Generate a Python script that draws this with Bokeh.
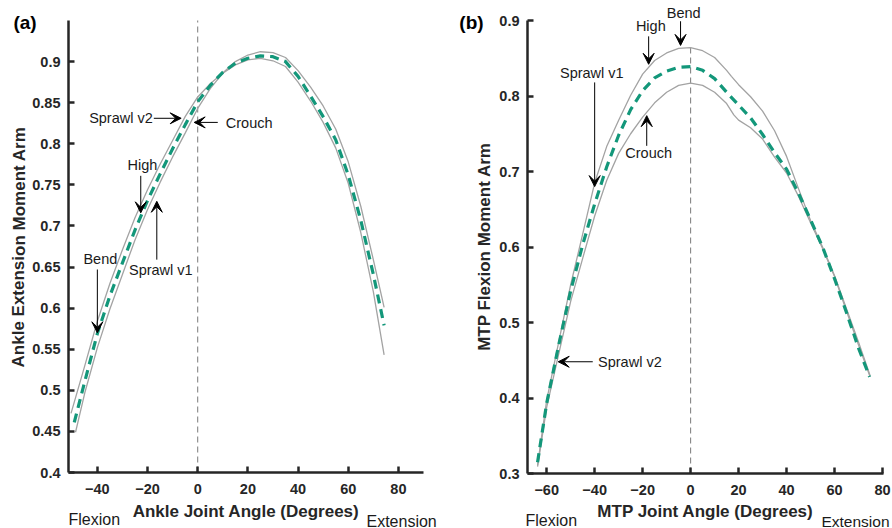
from bokeh.plotting import figure
from bokeh.layouts import row
from bokeh.models import Label, Arrow, VeeHead, FixedTicker, Range1d
from bokeh.embed import file_html
from bokeh.resources import INLINE

FONT = "Liberation Sans"

# ---------------- Panel (a): ankle ----------------
ankle_g1_x = [-50.5, -45, -40, -35, -30, -25, -20, -15, -10, -5, 0, 5, 10, 15, 20, 25, 30, 35, 40, 45, 50, 55, 60, 65, 70, 74.3]
ankle_g1_y = [0.472, 0.530, 0.584, 0.630, 0.671, 0.710, 0.744, 0.775, 0.804, 0.833, 0.857, 0.873, 0.886, 0.896, 0.902, 0.904, 0.901, 0.894, 0.875, 0.852, 0.826, 0.795, 0.752, 0.692, 0.620, 0.543]
ankle_g2_x = [-48.7, -45, -40, -35, -30, -25, -20, -15, -10, -5, 0, 5, 10, 15, 20, 25, 30, 35, 40, 45, 50, 55, 60, 65, 70, 74.3]
ankle_g2_y = [0.449, 0.497, 0.552, 0.599, 0.641, 0.683, 0.720, 0.753, 0.784, 0.813, 0.843, 0.867, 0.886, 0.900, 0.908, 0.912, 0.911, 0.905, 0.889, 0.869, 0.846, 0.818, 0.778, 0.724, 0.659, 0.601]
ankle_mean_x = [-49.2, -45, -40, -35, -30, -25, -20, -15, -10, -5, 0, 5, 10, 15, 20, 25, 30, 35, 40, 45, 50, 55, 60, 65, 70, 74.3]
ankle_mean_y = [0.461, 0.511, 0.569, 0.615, 0.655, 0.695, 0.731, 0.763, 0.794, 0.823, 0.851, 0.871, 0.887, 0.898, 0.904, 0.907, 0.906, 0.900, 0.882, 0.858, 0.833, 0.805, 0.762, 0.707, 0.641, 0.579]
ankle_xticks = [-40, -20, 0, 20, 40, 60, 80]
ankle_yticks = [0.4, 0.45, 0.5, 0.55, 0.6, 0.65, 0.7, 0.75, 0.8, 0.85, 0.9]
ankle_ytick_labels = ["0.4", "0.45", "0.5", "0.55", "0.6", "0.65", "0.7", "0.75", "0.8", "0.85", "0.9"]
ankle_xlim = (-51.5, 90)
ankle_ylim = (0.4, 0.95)

# ---------------- Panel (b): MTP ----------------
mtp_up_x = [-63.8, -60, -55, -50, -45, -40, -35, -30, -25, -20, -15, -10, -5, 0, 5, 10, 15, 17, 20, 25, 30, 35, 40, 45, 50, 55, 60, 65, 70, 74.8]
mtp_up_y = [0.311, 0.397, 0.474, 0.550, 0.617, 0.685, 0.733, 0.768, 0.801, 0.829, 0.847, 0.857, 0.863, 0.864, 0.860, 0.851, 0.834, 0.826, 0.815, 0.799, 0.780, 0.754, 0.720, 0.677, 0.635, 0.600, 0.562, 0.518, 0.474, 0.430]
mtp_lo_x = [-63.8, -60, -55, -50, -45, -40, -35, -30, -25, -20, -15, -10, -5, 0, 5, 10, 15, 18, 20, 25, 30, 35, 40, 45, 50, 55, 60, 65, 70, 74.8]
mtp_lo_y = [0.309, 0.388, 0.458, 0.528, 0.585, 0.641, 0.688, 0.724, 0.750, 0.772, 0.791, 0.805, 0.814, 0.817, 0.814, 0.805, 0.790, 0.775, 0.768, 0.758, 0.743, 0.719, 0.698, 0.667, 0.632, 0.598, 0.561, 0.515, 0.470, 0.428]
mtp_mean_x = [-63.8, -60, -55, -50, -45, -40, -35, -30, -25, -20, -15, -10, -5, 0, 5, 10, 15, 20, 25, 30, 35, 40, 45, 50, 55, 60, 65, 70, 74.6]
mtp_mean_y = [0.315, 0.393, 0.470, 0.542, 0.603, 0.657, 0.706, 0.748, 0.782, 0.807, 0.824, 0.833, 0.838, 0.839, 0.834, 0.823, 0.805, 0.788, 0.771, 0.749, 0.725, 0.703, 0.671, 0.636, 0.600, 0.558, 0.513, 0.466, 0.428]
mtp_xticks = [-60, -40, -20, 0, 20, 40, 60, 80]
mtp_yticks = [0.3, 0.4, 0.5, 0.6, 0.7, 0.8, 0.9]
mtp_ytick_labels = ["0.3", "0.4", "0.5", "0.6", "0.7", "0.8", "0.9"]
mtp_xlim = (-68, 80.4)
mtp_ylim = (0.3, 0.9)

# dashed zero line tops
ankle_vline_top = 0.95
mtp_vline_top = 0.866

# annotation texts: (text, text_x, text_y, align, arrow_x0, arrow_y0, arrow_x1, arrow_y1)
ankle_notes = [
    ("Sprawl v2", -17.9, 0.831, "right", -17.5, 0.831, -6.6, 0.831),
    ("Crouch", 11.2, 0.825, "left", 8.0, 0.826, -1.4, 0.826),
    ("High", -22.0, 0.774, "center", -22.7, 0.761, -22.7, 0.716),
    ("Sprawl v1", -14.7, 0.646, "center", -16.3, 0.659, -16.3, 0.730),
    ("Bend", -38.8, 0.660, "center", -40.0, 0.647, -40.0, 0.570),
]
mtp_notes = [
    ("Bend", -2.9, 0.9105, "center", -4.2, 0.899, -4.2, 0.867),
    ("High", -16.6, 0.893, "center", -17.5, 0.879, -17.5, 0.842),
    ("Sprawl v1", -41.2, 0.830, "center", -40.0, 0.818, -40.0, 0.680),
    ("Crouch", -17.5, 0.724, "center", -18.3, 0.734, -18.3, 0.774),
    ("Sprawl v2", -38.6, 0.448, "left", -40.8, 0.448, -55.2, 0.448),
]

AX = "#262626"
GRAY = "#a3a3a3"
GREEN = "#13977a"
TXT = "#1a1a1a"
FIG_H = 528
FIG_W = 446


def make_panel(spec):
    (xlim, ylim, fl, ft, fw, fh, fig_left, gx1, gy1, gx2, gy2, mx, my, xticks, yticks,
     ylabels, vtop, notes, outside) = spec
    kx = fw / (xlim[1] - xlim[0])        # px per x unit
    ky = fh / (ylim[1] - ylim[0])        # px per y unit

    def dx(px):
        return xlim[0] + (px - fl) / kx

    def dy(py):
        return ylim[1] - (py - ft) / ky

    p = figure(width=FIG_W, height=FIG_H,
               x_range=Range1d(dx(fig_left), dx(fig_left + FIG_W)),
               y_range=Range1d(dy(FIG_H), dy(0)),
               output_backend="svg", toolbar_location=None,
               min_border=0, min_border_left=0, min_border_right=0,
               min_border_top=0, min_border_bottom=0)
    p.outline_line_color = None
    p.xgrid.visible = False
    p.ygrid.visible = False
    p.background_fill_color = "white"
    p.border_fill_color = "white"

    p.xaxis.fixed_location = ylim[0]
    p.yaxis.fixed_location = xlim[0]
    p.xaxis.bounds = xlim
    p.yaxis.bounds = ylim
    p.xaxis.ticker = FixedTicker(ticks=xticks)
    p.yaxis.ticker = FixedTicker(ticks=yticks)
    p.yaxis.major_label_overrides = {t: s for t, s in zip(yticks, ylabels)}
    for ax in (p.xaxis, p.yaxis):
        ax.axis_line_color = AX
        ax.axis_line_width = 2.5
        ax.major_tick_line_color = AX
        ax.major_tick_line_width = 2.5
        ax.major_tick_in = 6
        ax.major_tick_out = 0
        ax.minor_tick_in = 0
        ax.minor_tick_out = 0
        ax.major_label_text_font = FONT
        ax.major_label_text_font_style = "bold"
        ax.major_label_text_font_size = "14.5px"
        ax.major_label_text_color = AX
    p.xaxis.major_label_standoff = 11
    p.yaxis.major_label_standoff = 8

    # vertical reference line at zero
    p.line([0, 0], [ylim[0], vtop], line_color="#7a7a7a", line_width=1, line_dash="6 4")

    p.line(gx1, gy1, line_color=GRAY, line_width=1.3)
    p.line(gx2, gy2, line_color=GRAY, line_width=1.3)
    p.line(mx, my, line_color=GREEN, line_width=3.2, line_dash="9 6")

    for (txt, tx, ty, al, x0, y0, x1, y1) in notes:
        p.add_layout(Arrow(end=VeeHead(size=11, fill_color="black", line_color="black", line_width=1),
                           x_start=x0, y_start=y0, x_end=x1, y_end=y1,
                           line_color="black", line_width=1))
        p.add_layout(Label(x=tx, y=ty, text=txt, text_align=al, text_baseline="middle",
                           text_font=FONT, text_font_size="14.5px", text_color=TXT))

    # panel letter, axis titles, Flexion/Extension (positions given in page pixels)
    for (txt, px, py, al, size, style, angle, col) in outside:
        p.add_layout(Label(x=dx(px), y=dy(py), text=txt, text_align=al, text_baseline="middle",
                           angle=angle, text_font=FONT, text_font_style=style,
                           text_font_size=size, text_color=col))
    return p


R90 = 1.5707963
pa = make_panel((ankle_xlim, ankle_ylim, 68, 20, 355, 452, 0,
                 ankle_g1_x, ankle_g1_y, ankle_g2_x, ankle_g2_y, ankle_mean_x, ankle_mean_y,
                 ankle_xticks, ankle_yticks, ankle_ytick_labels, ankle_vline_top, ankle_notes,
                 [("(a)", 24.5, 22, "center", "19px", "bold", 0, "black"),
                  ("Ankle Extension Moment Arm", 18.5, 246.5, "center", "17px", "bold", R90, AX),
                  ("Ankle Joint Angle (Degrees)", 245.5, 510.5, "center", "17px", "bold", 0, AX),
                  ("Flexion", 68, 519, "left", "16px", "normal", 0, TXT),
                  ("Extension", 366, 520.5, "left", "16px", "normal", 0, TXT)]))
pb = make_panel((mtp_xlim, mtp_ylim, 527, 20, 356, 453, 446,
                 mtp_up_x, mtp_up_y, mtp_lo_x, mtp_lo_y, mtp_mean_x, mtp_mean_y,
                 mtp_xticks, mtp_yticks, mtp_ytick_labels, mtp_vline_top, mtp_notes,
                 [("(b)", 471, 22, "center", "19px", "bold", 0, "black"),
                  ("MTP Flexion Moment Arm", 484, 246, "center", "17px", "bold", R90, AX),
                  ("MTP Joint Angle (Degrees)", 705, 510.5, "center", "17px", "bold", 0, AX),
                  ("Flexion", 525, 519.5, "left", "16px", "normal", 0, TXT),
                  ("Extension", 889, 520.5, "right", "15.5px", "normal", 0, TXT)]))

layout = row(pa, pb)
open("out.html", "w").write(file_html(layout, INLINE))
